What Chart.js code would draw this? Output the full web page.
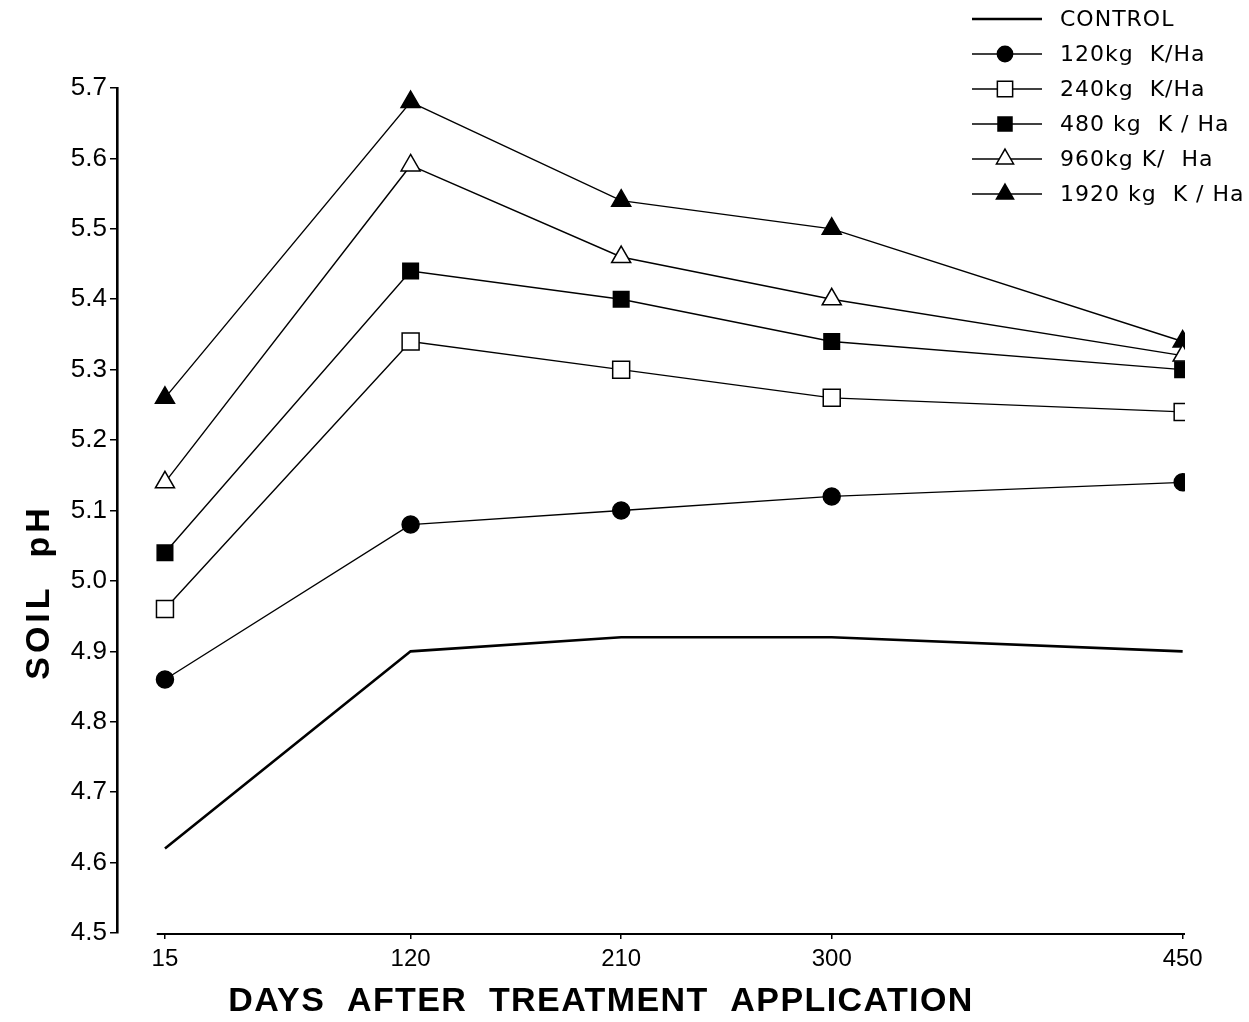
<!DOCTYPE html>
<html>
<head>
<meta charset="utf-8">
<script src="https://cdn.jsdelivr.net/npm/chart.js@4/dist/chart.umd.min.js"></script>
<style>
  html, body { margin: 0; padding: 0; background: #fff; }
  #wrap { width: 1249px; height: 1022px; }
</style>
</head>
<body>
<div id="wrap"><canvas id="c" width="1249" height="1022"></canvas></div>
<script>
// ---- data ----
const days = [15, 120, 210, 300, 450];
const xTickValues = [15, 120, 210, 300, 450];
const control = [4.62, 4.90, 4.92, 4.92, 4.90];
const k120 = [4.86, 5.08, 5.10, 5.12, 5.14];
const k240 = [4.96, 5.34, 5.30, 5.26, 5.24];
const k480 = [5.04, 5.44, 5.40, 5.34, 5.30];
const k960 = [5.14, 5.59, 5.46, 5.40, 5.32];
const k1920 = [5.26, 5.68, 5.54, 5.50, 5.34];
const seriesLabels = ['CONTROL', '120kg  K/Ha', '240kg  K/Ha', '480 kg  K / Ha', '960kg K/  Ha', '1920 kg  K / Ha'];
const xTitle = 'DAYS  AFTER  TREATMENT  APPLICATION';
const yTitle = 'SOIL  pH';
const yMin = 4.5, yMax = 5.7, yStep = 0.1;

const toPts = vals => days.map((d, i) => ({ x: d, y: vals[i] }));

const styles = [
  { pointStyle: 'circle', pointRadius: 0, fill: '#000', borderWidth: 2.6 },
  { pointStyle: 'circle', pointRadius: 8.5, fill: '#000', borderWidth: 1.4 },
  { pointStyle: 'rect', pointRadius: 12, fill: '#fff', borderWidth: 1.4 },
  { pointStyle: 'rect', pointRadius: 11, fill: '#000', borderWidth: 1.4 },
  { pointStyle: 'triangle', pointRadius: 11, fill: '#fff', borderWidth: 1.4 },
  { pointStyle: 'triangle', pointRadius: 11, fill: '#000', borderWidth: 1.4 }
];
const seriesValues = [control, k120, k240, k480, k960, k1920];

const datasets = seriesValues.map((vals, i) => ({
  label: seriesLabels[i],
  data: toPts(vals),
  borderColor: '#000',
  borderWidth: styles[i].borderWidth,
  pointStyle: styles[i].pointStyle,
  pointRadius: styles[i].pointRadius,
  pointHoverRadius: styles[i].pointRadius,
  pointBackgroundColor: styles[i].fill,
  pointBorderColor: '#000',
  pointBorderWidth: 1.5,
  tension: 0,
  fill: false
}));

const customDraw = {
  id: 'customDraw',
  afterDraw(chart) {
    const ctx = chart.ctx;
    const xs = chart.scales.x;
    const area = chart.chartArea;
    ctx.save();
    // x axis line (starts just left of the first tick, as in the reference)
    ctx.strokeStyle = '#000';
    ctx.lineWidth = 2;
    ctx.beginPath();
    ctx.moveTo(xs.getPixelForValue(11.5), area.bottom + 1);
    ctx.lineTo(area.right, area.bottom + 1);
    ctx.stroke();

    // axis titles
    ctx.fillStyle = '#000';
    ctx.textAlign = 'center';
    ctx.textBaseline = 'middle';
    ctx.font = 'bold 34px "Liberation Sans", Arial, sans-serif';
    ctx.letterSpacing = '1.4px';
    ctx.fillText(xTitle, 601, 1002);
    ctx.save();
    ctx.translate(40, 592);
    ctx.rotate(-Math.PI / 2);
    ctx.letterSpacing = '4px';
    ctx.fillText(yTitle, 0, 0);
    ctx.restore();

    // legend: line sample + marker + text
    ctx.letterSpacing = '1px';
    ctx.font = '22px "DejaVu Sans", sans-serif';
    ctx.textAlign = 'left';
    chart.data.datasets.forEach((ds, i) => {
      const y = 19 + i * 35;
      ctx.strokeStyle = '#000';
      ctx.lineWidth = ds.borderWidth;
      ctx.beginPath();
      ctx.moveTo(972, y);
      ctx.lineTo(1042, y);
      ctx.stroke();
      if (ds.pointRadius > 0) {
        ctx.fillStyle = ds.pointBackgroundColor;
        ctx.strokeStyle = '#000';
        ctx.lineWidth = 1.5;
        Chart.helpers.drawPoint(ctx, { pointStyle: ds.pointStyle, radius: ds.pointRadius * 0.9, borderWidth: 1.5, rotation: 0 }, 1005, y);
      }
      ctx.fillStyle = '#000';
      ctx.fillText(ds.label, 1060, y + 1);
    });
    ctx.restore();
  }
};

new Chart(document.getElementById('c'), {
  type: 'line',
  data: { datasets },
  options: {
    responsive: false,
    animation: false,
    devicePixelRatio: 1,
    layout: { padding: { top: 88, right: 64, left: 0, bottom: 0 } },
    plugins: { legend: { display: false }, tooltip: { enabled: false }, title: { display: false } },
    scales: {
      x: {
        type: 'linear',
        min: -5.5,
        max: 451,
        afterBuildTicks: s => { s.ticks = xTickValues.map(v => ({ value: v })); },
        afterFit: s => { s.height = 89; },
        border: { display: false },
        grid: { display: true, drawOnChartArea: false, drawTicks: true, tickLength: 6, color: '#000', lineWidth: 1.5 },
        ticks: { color: '#000', font: { family: '"Liberation Sans", Arial, sans-serif', size: 24 }, padding: 6, maxRotation: 0, autoSkip: false, callback: v => String(v) }
      },
      y: {
        min: yMin,
        max: yMax,
        afterFit: s => { s.width = 117; },
        border: { display: true, color: '#000', width: 2.6 },
        grid: { display: true, drawOnChartArea: false, drawTicks: true, tickLength: 7, color: '#000', lineWidth: 1.5 },
        ticks: { stepSize: yStep, color: '#000', font: { family: '"Liberation Sans", Arial, sans-serif', size: 26 }, padding: 3, callback: v => Number(v).toFixed(1) }
      }
    }
  },
  plugins: [customDraw]
});
</script>
</body>
</html>
